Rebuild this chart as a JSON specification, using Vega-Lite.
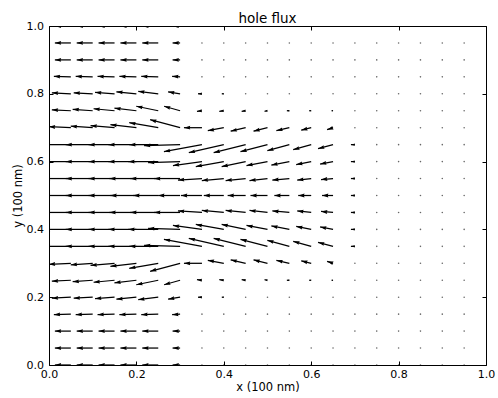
{
"$schema": "https://vega.github.io/schema/vega-lite/v6.json",
"width": 437, "height": 339,
"autosize": "none",
"padding": {"left": 49, "top": 26, "right": 12, "bottom": 33},
"background": "white",
"title": {"text": "hole flux", "fontSize": 13.5, "font": "DejaVu Sans", "fontWeight": "normal", "color": "black", "anchor": "middle", "frame": "group", "baseline": "alphabetic", "offset": 3.5, "dy": 20},
"config": {
  "view": {"stroke": "black", "strokeWidth": 1},
  "axis": {"domain": false, "grid": false, "labelFont": "DejaVu Sans", "labelFontSize": 11, "labelColor": "black", "titleFont": "DejaVu Sans", "titleFontSize": 11.5, "titleFontWeight": "normal", "titleColor": "black", "tickColor": "black", "tickSize": -4, "tickWidth": 1, "labelFlush": false, "labelOverlap": false, "minExtent": 0}
},
"datasets": {
"arrows": [
{"x":0.05,"y":1,"x2":0.0134,"y2":1,"a":180,"m":16},{"x":0.1,"y":1,"x2":0.0634,"y2":1,"a":180,"m":16},{"x":0.15,"y":1,"x2":0.1134,"y2":1,"a":180,"m":16},{"x":0.2,"y":1,"x2":0.1634,"y2":1,"a":180,"m":16},{"x":0.25,"y":1,"x2":0.2134,"y2":1,"a":180,"m":16},{"x":0.3,"y":1,"x2":0.2828,"y2":1,"a":180,"m":7.5},
{"x":0.05,"y":0.95,"x2":0.0134,"y2":0.95,"a":180,"m":16},{"x":0.1,"y":0.95,"x2":0.0634,"y2":0.95,"a":180,"m":16},{"x":0.15,"y":0.95,"x2":0.1134,"y2":0.95,"a":180,"m":16},{"x":0.2,"y":0.95,"x2":0.1634,"y2":0.95,"a":180,"m":16},{"x":0.25,"y":0.95,"x2":0.2134,"y2":0.95,"a":180,"m":16},{"x":0.3,"y":0.95,"x2":0.2828,"y2":0.95,"a":180,"m":7.5},
{"x":0.05,"y":0.9,"x2":0.0134,"y2":0.9,"a":180,"m":16},{"x":0.1,"y":0.9,"x2":0.0634,"y2":0.9,"a":180,"m":16},{"x":0.15,"y":0.9,"x2":0.1134,"y2":0.9,"a":180,"m":16},{"x":0.2,"y":0.9,"x2":0.1634,"y2":0.9,"a":180,"m":16},{"x":0.25,"y":0.9,"x2":0.2134,"y2":0.9,"a":180,"m":16},{"x":0.3,"y":0.9,"x2":0.2828,"y2":0.9,"a":180,"m":7.5},
{"x":0.05,"y":0.85,"x2":0.0111,"y2":0.8515,"a":181.7,"m":17},{"x":0.1,"y":0.85,"x2":0.0611,"y2":0.8515,"a":181.7,"m":17},{"x":0.15,"y":0.85,"x2":0.1111,"y2":0.8515,"a":181.7,"m":17},{"x":0.2,"y":0.85,"x2":0.1611,"y2":0.8515,"a":181.7,"m":17},{"x":0.25,"y":0.85,"x2":0.2111,"y2":0.8515,"a":181.7,"m":17},{"x":0.3,"y":0.85,"x2":0.2817,"y2":0.8515,"a":183.6,"m":8},
{"x":0.05,"y":0.8,"x2":0.0065,"y2":0.8029,"a":183,"m":19},{"x":0.1,"y":0.8,"x2":0.0565,"y2":0.8029,"a":183,"m":19},{"x":0.15,"y":0.8,"x2":0.1054,"y2":0.8044,"a":184.4,"m":19.6},{"x":0.2,"y":0.8,"x2":0.1542,"y2":0.8059,"a":185.7,"m":20.1},{"x":0.25,"y":0.8,"x2":0.2042,"y2":0.8074,"a":187.1,"m":20.2},{"x":0.3,"y":0.8,"x2":0.2725,"y2":0.8059,"a":189.5,"m":12.2},{"x":0.35,"y":0.8,"x2":0.3409,"y2":0.8,"a":180,"m":4},{"x":0.4,"y":0.8,"x2":0.3954,"y2":0.8,"a":180,"m":2},
{"x":0.05,"y":0.75,"x2":0.0065,"y2":0.7529,"a":183,"m":19},{"x":0.1,"y":0.75,"x2":0.0542,"y2":0.7544,"a":184.3,"m":20.1},{"x":0.15,"y":0.75,"x2":0.102,"y2":0.7559,"a":185.4,"m":21.1},{"x":0.2,"y":0.75,"x2":0.1497,"y2":0.7574,"a":186.5,"m":22.1},{"x":0.25,"y":0.75,"x2":0.1997,"y2":0.7633,"a":191.6,"m":22.5},{"x":0.3,"y":0.75,"x2":0.2634,"y2":0.7633,"a":195.7,"m":16.6},{"x":0.35,"y":0.75,"x2":0.3386,"y2":0.7485,"a":174.3,"m":5},{"x":0.4,"y":0.75,"x2":0.3897,"y2":0.7485,"a":173.7,"m":4.5},{"x":0.45,"y":0.75,"x2":0.4409,"y2":0.7485,"a":172.9,"m":4},{"x":0.5,"y":0.75,"x2":0.4931,"y2":0.7485,"a":170.5,"m":3},{"x":0.55,"y":0.75,"x2":0.5443,"y2":0.75,"a":180,"m":2.5},{"x":0.6,"y":0.75,"x2":0.5954,"y2":0.75,"a":180,"m":2},{"x":0.65,"y":0.75,"x2":0.6466,"y2":0.75,"a":180,"m":1.5},
{"x":0.05,"y":0.7,"x2":-0.0003,"y2":0.7029,"a":182.6,"m":22},{"x":0.1,"y":0.7,"x2":0.0497,"y2":0.7044,"a":183.9,"m":22},{"x":0.15,"y":0.7,"x2":0.0951,"y2":0.7059,"a":184.8,"m":24.1},{"x":0.2,"y":0.7,"x2":0.1405,"y2":0.7089,"a":186.6,"m":26.2},{"x":0.25,"y":0.7,"x2":0.1836,"y2":0.7148,"a":189.8,"m":29.4},{"x":0.3,"y":0.7,"x2":0.2314,"y2":0.7236,"a":194.9,"m":31},{"x":0.35,"y":0.7,"x2":0.3088,"y2":0.7,"a":180,"m":18},{"x":0.4,"y":0.7,"x2":0.3634,"y2":0.6912,"a":169.4,"m":16.3},{"x":0.45,"y":0.7,"x2":0.4157,"y2":0.6897,"a":166.9,"m":15.4},{"x":0.5,"y":0.7,"x2":0.468,"y2":0.6897,"a":166,"m":14.4},{"x":0.55,"y":0.7,"x2":0.5203,"y2":0.6912,"a":167,"m":13.3},{"x":0.6,"y":0.7,"x2":0.5771,"y2":0.6926,"a":166,"m":10.3},{"x":0.65,"y":0.7,"x2":0.6363,"y2":0.6941,"a":161.6,"m":6.3},
{"x":0.05,"y":0.65,"x2":-0.0118,"y2":0.65,"a":180,"m":27},{"x":0.1,"y":0.65,"x2":0.0382,"y2":0.65,"a":180,"m":27},{"x":0.15,"y":0.65,"x2":0.0905,"y2":0.65,"a":180,"m":26},{"x":0.2,"y":0.65,"x2":0.1359,"y2":0.65,"a":180,"m":28},{"x":0.25,"y":0.65,"x2":0.1836,"y2":0.65,"a":180,"m":29},{"x":0.3,"y":0.65,"x2":0.2176,"y2":0.6471,"a":178.4,"m":36},{"x":0.35,"y":0.65,"x2":0.263,"y2":0.6294,"a":169.6,"m":38.6},{"x":0.4,"y":0.65,"x2":0.3199,"y2":0.6264,"a":167.1,"m":35.9},{"x":0.45,"y":0.65,"x2":0.3768,"y2":0.6264,"a":166,"m":33},{"x":0.5,"y":0.65,"x2":0.4382,"y2":0.6294,"a":165.5,"m":27.9},{"x":0.55,"y":0.65,"x2":0.4997,"y2":0.6323,"a":164.7,"m":22.8},{"x":0.6,"y":0.65,"x2":0.5588,"y2":0.6353,"a":164.5,"m":18.7},{"x":0.65,"y":0.65,"x2":0.6157,"y2":0.6382,"a":165.1,"m":15.5},{"x":0.7,"y":0.65,"x2":0.6909,"y2":0.65,"a":180,"m":4},
{"x":0.05,"y":0.6,"x2":-0.0118,"y2":0.6,"a":180,"m":27},{"x":0.1,"y":0.6,"x2":0.0382,"y2":0.6,"a":180,"m":27},{"x":0.15,"y":0.6,"x2":0.0905,"y2":0.6,"a":180,"m":26},{"x":0.2,"y":0.6,"x2":0.1359,"y2":0.6,"a":180,"m":28},{"x":0.25,"y":0.6,"x2":0.1814,"y2":0.6,"a":180,"m":30},{"x":0.3,"y":0.6,"x2":0.2268,"y2":0.5971,"a":178.2,"m":32},{"x":0.35,"y":0.6,"x2":0.2836,"y2":0.5882,"a":172.1,"m":29.3},{"x":0.4,"y":0.6,"x2":0.3359,"y2":0.5853,"a":169.9,"m":28.4},{"x":0.45,"y":0.6,"x2":0.3951,"y2":0.5853,"a":168.2,"m":24.5},{"x":0.5,"y":0.6,"x2":0.4519,"y2":0.5882,"a":169.2,"m":21.4},{"x":0.55,"y":0.6,"x2":0.5088,"y2":0.5897,"a":169,"m":18.3},{"x":0.6,"y":0.6,"x2":0.5657,"y2":0.5912,"a":168.7,"m":15.3},{"x":0.65,"y":0.6,"x2":0.6203,"y2":0.5926,"a":169.1,"m":13.2},{"x":0.7,"y":0.6,"x2":0.6909,"y2":0.6,"a":180,"m":4},
{"x":0.05,"y":0.55,"x2":-0.0118,"y2":0.55,"a":180,"m":27},{"x":0.1,"y":0.55,"x2":0.0382,"y2":0.55,"a":180,"m":27},{"x":0.15,"y":0.55,"x2":0.0905,"y2":0.55,"a":180,"m":26},{"x":0.2,"y":0.55,"x2":0.1382,"y2":0.55,"a":180,"m":27},{"x":0.25,"y":0.55,"x2":0.1859,"y2":0.55,"a":180,"m":28},{"x":0.3,"y":0.55,"x2":0.2405,"y2":0.55,"a":180,"m":26},{"x":0.35,"y":0.55,"x2":0.2951,"y2":0.5456,"a":176.4,"m":24},{"x":0.4,"y":0.55,"x2":0.3497,"y2":0.5441,"a":174.8,"m":22.1},{"x":0.45,"y":0.55,"x2":0.4042,"y2":0.5441,"a":174.3,"m":20.1},{"x":0.5,"y":0.55,"x2":0.4588,"y2":0.5441,"a":173.7,"m":18.1},{"x":0.55,"y":0.55,"x2":0.5111,"y2":0.5456,"a":175,"m":17.1},{"x":0.6,"y":0.55,"x2":0.568,"y2":0.5456,"a":173.9,"m":14.1},{"x":0.65,"y":0.55,"x2":0.6225,"y2":0.5471,"a":175.2,"m":12},{"x":0.7,"y":0.55,"x2":0.6909,"y2":0.55,"a":180,"m":4},
{"x":0.05,"y":0.5,"x2":-0.0118,"y2":0.5,"a":180,"m":27},{"x":0.1,"y":0.5,"x2":0.0382,"y2":0.5,"a":180,"m":27},{"x":0.15,"y":0.5,"x2":0.0905,"y2":0.5,"a":180,"m":26},{"x":0.2,"y":0.5,"x2":0.1405,"y2":0.5,"a":180,"m":26},{"x":0.25,"y":0.5,"x2":0.1928,"y2":0.5,"a":180,"m":25},{"x":0.3,"y":0.5,"x2":0.2497,"y2":0.5,"a":180,"m":22},{"x":0.35,"y":0.5,"x2":0.302,"y2":0.5,"a":180,"m":21},{"x":0.4,"y":0.5,"x2":0.3542,"y2":0.5,"a":180,"m":20},{"x":0.45,"y":0.5,"x2":0.4088,"y2":0.5,"a":180,"m":18},{"x":0.5,"y":0.5,"x2":0.4611,"y2":0.5,"a":180,"m":17},{"x":0.55,"y":0.5,"x2":0.5157,"y2":0.5,"a":180,"m":15},{"x":0.6,"y":0.5,"x2":0.5703,"y2":0.5,"a":180,"m":13},{"x":0.65,"y":0.5,"x2":0.6248,"y2":0.5,"a":180,"m":11},{"x":0.7,"y":0.5,"x2":0.6909,"y2":0.5,"a":180,"m":4},
{"x":0.05,"y":0.45,"x2":-0.0118,"y2":0.45,"a":180,"m":27},{"x":0.1,"y":0.45,"x2":0.0382,"y2":0.45,"a":180,"m":27},{"x":0.15,"y":0.45,"x2":0.0905,"y2":0.45,"a":180,"m":26},{"x":0.2,"y":0.45,"x2":0.1382,"y2":0.45,"a":180,"m":27},{"x":0.25,"y":0.45,"x2":0.1859,"y2":0.45,"a":180,"m":28},{"x":0.3,"y":0.45,"x2":0.2405,"y2":0.45,"a":180,"m":26},{"x":0.35,"y":0.45,"x2":0.2951,"y2":0.4544,"a":183.6,"m":24},{"x":0.4,"y":0.45,"x2":0.3497,"y2":0.4559,"a":185.2,"m":22.1},{"x":0.45,"y":0.45,"x2":0.4042,"y2":0.4559,"a":185.7,"m":20.1},{"x":0.5,"y":0.45,"x2":0.4588,"y2":0.4559,"a":186.3,"m":18.1},{"x":0.55,"y":0.45,"x2":0.5111,"y2":0.4544,"a":185,"m":17.1},{"x":0.6,"y":0.45,"x2":0.568,"y2":0.4544,"a":186.1,"m":14.1},{"x":0.65,"y":0.45,"x2":0.6225,"y2":0.4529,"a":184.8,"m":12},{"x":0.7,"y":0.45,"x2":0.6909,"y2":0.45,"a":180,"m":4},
{"x":0.05,"y":0.4,"x2":-0.0118,"y2":0.4,"a":180,"m":27},{"x":0.1,"y":0.4,"x2":0.0382,"y2":0.4,"a":180,"m":27},{"x":0.15,"y":0.4,"x2":0.0905,"y2":0.4,"a":180,"m":26},{"x":0.2,"y":0.4,"x2":0.1359,"y2":0.4,"a":180,"m":28},{"x":0.25,"y":0.4,"x2":0.1814,"y2":0.4,"a":180,"m":30},{"x":0.3,"y":0.4,"x2":0.2268,"y2":0.4029,"a":181.8,"m":32},{"x":0.35,"y":0.4,"x2":0.2836,"y2":0.4118,"a":187.9,"m":29.3},{"x":0.4,"y":0.4,"x2":0.3359,"y2":0.4147,"a":190.1,"m":28.4},{"x":0.45,"y":0.4,"x2":0.3951,"y2":0.4147,"a":191.8,"m":24.5},{"x":0.5,"y":0.4,"x2":0.4519,"y2":0.4118,"a":190.8,"m":21.4},{"x":0.55,"y":0.4,"x2":0.5088,"y2":0.4103,"a":191,"m":18.3},{"x":0.6,"y":0.4,"x2":0.5657,"y2":0.4088,"a":191.3,"m":15.3},{"x":0.65,"y":0.4,"x2":0.6203,"y2":0.4074,"a":190.9,"m":13.2},{"x":0.7,"y":0.4,"x2":0.6909,"y2":0.4,"a":180,"m":4},
{"x":0.05,"y":0.35,"x2":-0.0118,"y2":0.35,"a":180,"m":27},{"x":0.1,"y":0.35,"x2":0.0382,"y2":0.35,"a":180,"m":27},{"x":0.15,"y":0.35,"x2":0.0905,"y2":0.35,"a":180,"m":26},{"x":0.2,"y":0.35,"x2":0.1359,"y2":0.35,"a":180,"m":28},{"x":0.25,"y":0.35,"x2":0.1836,"y2":0.35,"a":180,"m":29},{"x":0.3,"y":0.35,"x2":0.2176,"y2":0.3529,"a":181.6,"m":36},{"x":0.35,"y":0.35,"x2":0.263,"y2":0.3706,"a":190.4,"m":38.6},{"x":0.4,"y":0.35,"x2":0.3199,"y2":0.3736,"a":192.9,"m":35.9},{"x":0.45,"y":0.35,"x2":0.3768,"y2":0.3736,"a":194,"m":33},{"x":0.5,"y":0.35,"x2":0.4382,"y2":0.3706,"a":194.5,"m":27.9},{"x":0.55,"y":0.35,"x2":0.4997,"y2":0.3677,"a":195.3,"m":22.8},{"x":0.6,"y":0.35,"x2":0.5588,"y2":0.3647,"a":195.5,"m":18.7},{"x":0.65,"y":0.35,"x2":0.6157,"y2":0.3618,"a":194.9,"m":15.5},{"x":0.7,"y":0.35,"x2":0.6909,"y2":0.35,"a":180,"m":4},
{"x":0.05,"y":0.3,"x2":-0.0003,"y2":0.2971,"a":177.4,"m":22},{"x":0.1,"y":0.3,"x2":0.0497,"y2":0.2956,"a":176.1,"m":22},{"x":0.15,"y":0.3,"x2":0.0951,"y2":0.2941,"a":175.2,"m":24.1},{"x":0.2,"y":0.3,"x2":0.1405,"y2":0.2911,"a":173.4,"m":26.2},{"x":0.25,"y":0.3,"x2":0.1836,"y2":0.2852,"a":170.2,"m":29.4},{"x":0.3,"y":0.3,"x2":0.2314,"y2":0.2764,"a":165.1,"m":31},{"x":0.35,"y":0.3,"x2":0.3088,"y2":0.3,"a":180,"m":18},{"x":0.4,"y":0.3,"x2":0.3634,"y2":0.3088,"a":190.6,"m":16.3},{"x":0.45,"y":0.3,"x2":0.4157,"y2":0.3103,"a":193.1,"m":15.4},{"x":0.5,"y":0.3,"x2":0.468,"y2":0.3103,"a":194,"m":14.4},{"x":0.55,"y":0.3,"x2":0.5203,"y2":0.3088,"a":193,"m":13.3},{"x":0.6,"y":0.3,"x2":0.5771,"y2":0.3074,"a":194,"m":10.3},{"x":0.65,"y":0.3,"x2":0.6363,"y2":0.3059,"a":198.4,"m":6.3},
{"x":0.05,"y":0.25,"x2":0.0065,"y2":0.2471,"a":177,"m":19},{"x":0.1,"y":0.25,"x2":0.0542,"y2":0.2456,"a":175.7,"m":20.1},{"x":0.15,"y":0.25,"x2":0.102,"y2":0.2441,"a":174.6,"m":21.1},{"x":0.2,"y":0.25,"x2":0.1497,"y2":0.2426,"a":173.5,"m":22.1},{"x":0.25,"y":0.25,"x2":0.1997,"y2":0.2367,"a":168.4,"m":22.5},{"x":0.3,"y":0.25,"x2":0.2634,"y2":0.2367,"a":164.3,"m":16.6},{"x":0.35,"y":0.25,"x2":0.3386,"y2":0.2515,"a":185.7,"m":5},{"x":0.4,"y":0.25,"x2":0.3897,"y2":0.2515,"a":186.3,"m":4.5},{"x":0.45,"y":0.25,"x2":0.4409,"y2":0.2515,"a":187.1,"m":4},{"x":0.5,"y":0.25,"x2":0.4931,"y2":0.2515,"a":189.5,"m":3},{"x":0.55,"y":0.25,"x2":0.5443,"y2":0.25,"a":180,"m":2.5},{"x":0.6,"y":0.25,"x2":0.5954,"y2":0.25,"a":180,"m":2},{"x":0.65,"y":0.25,"x2":0.6466,"y2":0.25,"a":180,"m":1.5},
{"x":0.05,"y":0.2,"x2":0.0065,"y2":0.1971,"a":177,"m":19},{"x":0.1,"y":0.2,"x2":0.0565,"y2":0.1971,"a":177,"m":19},{"x":0.15,"y":0.2,"x2":0.1054,"y2":0.1956,"a":175.6,"m":19.6},{"x":0.2,"y":0.2,"x2":0.1542,"y2":0.1941,"a":174.3,"m":20.1},{"x":0.25,"y":0.2,"x2":0.2042,"y2":0.1926,"a":172.9,"m":20.2},{"x":0.3,"y":0.2,"x2":0.2725,"y2":0.1941,"a":170.5,"m":12.2},{"x":0.35,"y":0.2,"x2":0.3409,"y2":0.2,"a":180,"m":4},{"x":0.4,"y":0.2,"x2":0.3954,"y2":0.2,"a":180,"m":2},
{"x":0.05,"y":0.15,"x2":0.0111,"y2":0.1485,"a":178.3,"m":17},{"x":0.1,"y":0.15,"x2":0.0611,"y2":0.1485,"a":178.3,"m":17},{"x":0.15,"y":0.15,"x2":0.1111,"y2":0.1485,"a":178.3,"m":17},{"x":0.2,"y":0.15,"x2":0.1611,"y2":0.1485,"a":178.3,"m":17},{"x":0.25,"y":0.15,"x2":0.2111,"y2":0.1485,"a":178.3,"m":17},{"x":0.3,"y":0.15,"x2":0.2817,"y2":0.1485,"a":176.4,"m":8},
{"x":0.05,"y":0.1,"x2":0.0134,"y2":0.1,"a":180,"m":16},{"x":0.1,"y":0.1,"x2":0.0634,"y2":0.1,"a":180,"m":16},{"x":0.15,"y":0.1,"x2":0.1134,"y2":0.1,"a":180,"m":16},{"x":0.2,"y":0.1,"x2":0.1634,"y2":0.1,"a":180,"m":16},{"x":0.25,"y":0.1,"x2":0.2134,"y2":0.1,"a":180,"m":16},{"x":0.3,"y":0.1,"x2":0.2828,"y2":0.1,"a":180,"m":7.5},
{"x":0.05,"y":0.05,"x2":0.0134,"y2":0.05,"a":180,"m":16},{"x":0.1,"y":0.05,"x2":0.0634,"y2":0.05,"a":180,"m":16},{"x":0.15,"y":0.05,"x2":0.1134,"y2":0.05,"a":180,"m":16},{"x":0.2,"y":0.05,"x2":0.1634,"y2":0.05,"a":180,"m":16},{"x":0.25,"y":0.05,"x2":0.2134,"y2":0.05,"a":180,"m":16},{"x":0.3,"y":0.05,"x2":0.2828,"y2":0.05,"a":180,"m":7.5},
{"x":0.05,"y":0,"x2":0.0134,"y2":0,"a":180,"m":16},{"x":0.1,"y":0,"x2":0.0634,"y2":0,"a":180,"m":16},{"x":0.15,"y":0,"x2":0.1134,"y2":0,"a":180,"m":16},{"x":0.2,"y":0,"x2":0.1634,"y2":0,"a":180,"m":16},{"x":0.25,"y":0,"x2":0.2134,"y2":0,"a":180,"m":16},{"x":0.3,"y":0,"x2":0.2828,"y2":0,"a":180,"m":7.5}
],
"dots": [
{"x":0.35,"y":1},{"x":0.4,"y":1},{"x":0.45,"y":1},{"x":0.5,"y":1},{"x":0.55,"y":1},{"x":0.6,"y":1},{"x":0.65,"y":1},{"x":0.7,"y":1},{"x":0.75,"y":1},{"x":0.8,"y":1},{"x":0.85,"y":1},{"x":0.9,"y":1},{"x":0.95,"y":1},
{"x":0.35,"y":0.95},{"x":0.4,"y":0.95},{"x":0.45,"y":0.95},{"x":0.5,"y":0.95},{"x":0.55,"y":0.95},{"x":0.6,"y":0.95},{"x":0.65,"y":0.95},{"x":0.7,"y":0.95},{"x":0.75,"y":0.95},{"x":0.8,"y":0.95},{"x":0.85,"y":0.95},{"x":0.9,"y":0.95},{"x":0.95,"y":0.95},
{"x":0.35,"y":0.9},{"x":0.4,"y":0.9},{"x":0.45,"y":0.9},{"x":0.5,"y":0.9},{"x":0.55,"y":0.9},{"x":0.6,"y":0.9},{"x":0.65,"y":0.9},{"x":0.7,"y":0.9},{"x":0.75,"y":0.9},{"x":0.8,"y":0.9},{"x":0.85,"y":0.9},{"x":0.9,"y":0.9},{"x":0.95,"y":0.9},
{"x":0.35,"y":0.85},{"x":0.4,"y":0.85},{"x":0.45,"y":0.85},{"x":0.5,"y":0.85},{"x":0.55,"y":0.85},{"x":0.6,"y":0.85},{"x":0.65,"y":0.85},{"x":0.7,"y":0.85},{"x":0.75,"y":0.85},{"x":0.8,"y":0.85},{"x":0.85,"y":0.85},{"x":0.9,"y":0.85},{"x":0.95,"y":0.85},
{"x":0.45,"y":0.8},{"x":0.5,"y":0.8},{"x":0.55,"y":0.8},{"x":0.6,"y":0.8},{"x":0.65,"y":0.8},{"x":0.7,"y":0.8},{"x":0.75,"y":0.8},{"x":0.8,"y":0.8},{"x":0.85,"y":0.8},{"x":0.9,"y":0.8},{"x":0.95,"y":0.8},
{"x":0.7,"y":0.75},{"x":0.75,"y":0.75},{"x":0.8,"y":0.75},{"x":0.85,"y":0.75},{"x":0.9,"y":0.75},{"x":0.95,"y":0.75},
{"x":0.7,"y":0.7},{"x":0.75,"y":0.7},{"x":0.8,"y":0.7},{"x":0.85,"y":0.7},{"x":0.9,"y":0.7},{"x":0.95,"y":0.7},
{"x":0.75,"y":0.65},{"x":0.8,"y":0.65},{"x":0.85,"y":0.65},{"x":0.9,"y":0.65},{"x":0.95,"y":0.65},
{"x":0.75,"y":0.6},{"x":0.8,"y":0.6},{"x":0.85,"y":0.6},{"x":0.9,"y":0.6},{"x":0.95,"y":0.6},
{"x":0.75,"y":0.55},{"x":0.8,"y":0.55},{"x":0.85,"y":0.55},{"x":0.9,"y":0.55},{"x":0.95,"y":0.55},
{"x":0.75,"y":0.5},{"x":0.8,"y":0.5},{"x":0.85,"y":0.5},{"x":0.9,"y":0.5},{"x":0.95,"y":0.5},
{"x":0.75,"y":0.45},{"x":0.8,"y":0.45},{"x":0.85,"y":0.45},{"x":0.9,"y":0.45},{"x":0.95,"y":0.45},
{"x":0.75,"y":0.4},{"x":0.8,"y":0.4},{"x":0.85,"y":0.4},{"x":0.9,"y":0.4},{"x":0.95,"y":0.4},
{"x":0.75,"y":0.35},{"x":0.8,"y":0.35},{"x":0.85,"y":0.35},{"x":0.9,"y":0.35},{"x":0.95,"y":0.35},
{"x":0.7,"y":0.3},{"x":0.75,"y":0.3},{"x":0.8,"y":0.3},{"x":0.85,"y":0.3},{"x":0.9,"y":0.3},{"x":0.95,"y":0.3},
{"x":0.7,"y":0.25},{"x":0.75,"y":0.25},{"x":0.8,"y":0.25},{"x":0.85,"y":0.25},{"x":0.9,"y":0.25},{"x":0.95,"y":0.25},
{"x":0.45,"y":0.2},{"x":0.5,"y":0.2},{"x":0.55,"y":0.2},{"x":0.6,"y":0.2},{"x":0.65,"y":0.2},{"x":0.7,"y":0.2},{"x":0.75,"y":0.2},{"x":0.8,"y":0.2},{"x":0.85,"y":0.2},{"x":0.9,"y":0.2},{"x":0.95,"y":0.2},
{"x":0.35,"y":0.15},{"x":0.4,"y":0.15},{"x":0.45,"y":0.15},{"x":0.5,"y":0.15},{"x":0.55,"y":0.15},{"x":0.6,"y":0.15},{"x":0.65,"y":0.15},{"x":0.7,"y":0.15},{"x":0.75,"y":0.15},{"x":0.8,"y":0.15},{"x":0.85,"y":0.15},{"x":0.9,"y":0.15},{"x":0.95,"y":0.15},
{"x":0.35,"y":0.1},{"x":0.4,"y":0.1},{"x":0.45,"y":0.1},{"x":0.5,"y":0.1},{"x":0.55,"y":0.1},{"x":0.6,"y":0.1},{"x":0.65,"y":0.1},{"x":0.7,"y":0.1},{"x":0.75,"y":0.1},{"x":0.8,"y":0.1},{"x":0.85,"y":0.1},{"x":0.9,"y":0.1},{"x":0.95,"y":0.1},
{"x":0.35,"y":0.05},{"x":0.4,"y":0.05},{"x":0.45,"y":0.05},{"x":0.5,"y":0.05},{"x":0.55,"y":0.05},{"x":0.6,"y":0.05},{"x":0.65,"y":0.05},{"x":0.7,"y":0.05},{"x":0.75,"y":0.05},{"x":0.8,"y":0.05},{"x":0.85,"y":0.05},{"x":0.9,"y":0.05},{"x":0.95,"y":0.05},
{"x":0.35,"y":0},{"x":0.4,"y":0},{"x":0.45,"y":0},{"x":0.5,"y":0},{"x":0.55,"y":0},{"x":0.6,"y":0},{"x":0.65,"y":0},{"x":0.7,"y":0},{"x":0.75,"y":0},{"x":0.8,"y":0},{"x":0.85,"y":0},{"x":0.9,"y":0},{"x":0.95,"y":0}
]
},
"layer": [
 {"data": {"name": "arrows"},
  "mark": {"type": "rule", "color": "black", "strokeWidth": 1.25, "clip": true},
  "encoding": {
   "x": {"field": "x", "type": "quantitative", "scale": {"domain": [0, 1], "nice": false, "zero": false},
         "axis": {"orient": "bottom", "values": [0, 0.2, 0.4, 0.6, 0.8, 1], "format": ".1f", "title": "x (100 nm)", "labelPadding": 7, "titlePadding": 2}},
   "y": {"field": "y", "type": "quantitative", "scale": {"domain": [0, 1], "nice": false, "zero": false},
         "axis": {"orient": "left", "values": [0, 0.2, 0.4, 0.6, 0.8, 1], "format": ".1f", "title": "y (100 nm)", "labelPadding": 9.5, "titlePadding": 3}},
   "x2": {"field": "x2"},
   "y2": {"field": "y2"}
  }},
 {"data": {"name": "arrows"},
  "mark": {"type": "point", "shape": "M0,0L-1,-0.3L-0.9,0L-1,0.3Z", "filled": true, "color": "black", "opacity": 1, "strokeWidth": 0, "clip": true},
  "encoding": {
   "x": {"field": "x2", "type": "quantitative", "scale": {"domain": [0, 1], "nice": false, "zero": false},
         "axis": {"orient": "top", "values": [0, 0.2, 0.4, 0.6, 0.8, 1], "labels": false, "title": null}},
   "y": {"field": "y2", "type": "quantitative", "scale": {"domain": [0, 1], "nice": false, "zero": false},
         "axis": {"orient": "right", "values": [0, 0.2, 0.4, 0.6, 0.8, 1], "labels": false, "title": null}},
   "angle": {"field": "a", "type": "quantitative", "scale": null},
   "size": {"field": "m", "type": "quantitative", "scale": {"type": "pow", "exponent": 2, "domain": [0, 6.3], "range": [0, 159], "clamp": true}, "legend": null}
  }},
 {"data": {"name": "dots"},
  "mark": {"type": "circle", "color": "black", "size": 2.5, "opacity": 0.6, "clip": true},
  "encoding": {
   "x": {"field": "x", "type": "quantitative", "scale": {"domain": [0, 1], "nice": false, "zero": false}, "axis": null},
   "y": {"field": "y", "type": "quantitative", "scale": {"domain": [0, 1], "nice": false, "zero": false}, "axis": null}
  }}
],
"resolve": {"axis": {"x": "independent", "y": "independent"}}
}
